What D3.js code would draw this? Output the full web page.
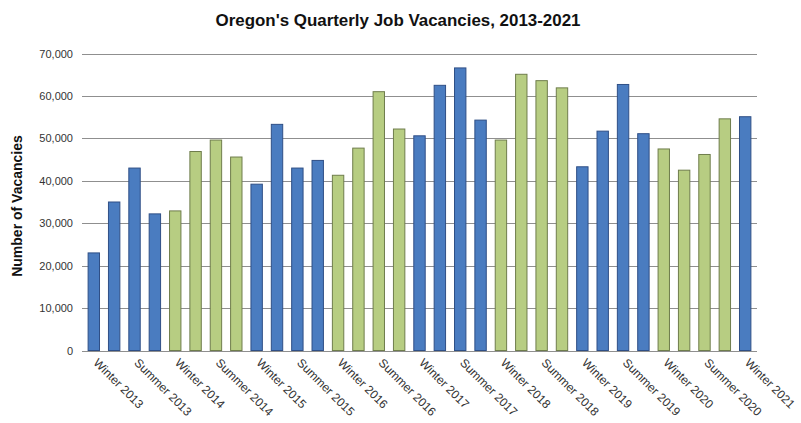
<!DOCTYPE html>
<html>
<head>
<meta charset="utf-8">
<script src="https://cdn.jsdelivr.net/npm/d3@7"></script>
<style>
  html, body { margin: 0; padding: 0; background: #fff; }
  svg { display: block; }
</style>
</head>
<body>
<svg id="chart" width="801" height="423"></svg>
<script>
// Quarterly job vacancy counts, Winter 2013 through Winter 2021
const quarters = [
  "Winter 2013", "Spring 2013", "Summer 2013", "Fall 2013",
  "Winter 2014", "Spring 2014", "Summer 2014", "Fall 2014",
  "Winter 2015", "Spring 2015", "Summer 2015", "Fall 2015",
  "Winter 2016", "Spring 2016", "Summer 2016", "Fall 2016",
  "Winter 2017", "Spring 2017", "Summer 2017", "Fall 2017",
  "Winter 2018", "Spring 2018", "Summer 2018", "Fall 2018",
  "Winter 2019", "Spring 2019", "Summer 2019", "Fall 2019",
  "Winter 2020", "Spring 2020", "Summer 2020", "Fall 2020",
  "Winter 2021"
];
const vacancies = [
  23000, 35000, 43000, 32200,
  32900, 46900, 49600, 45600,
  39200, 53300, 43000, 44800,
  41300, 47700, 61000, 52200,
  50600, 62500, 66600, 54300,
  49600, 65100, 63600, 61900,
  43300, 51700, 62700, 51100,
  47500, 42500, 46200, 54600,
  55100
];
const tickLabels = [
  "Winter 2013", "Summer 2013", "Winter 2014", "Summer 2014",
  "Winter 2015", "Summer 2015", "Winter 2016", "Summer 2016",
  "Winter 2017", "Summer 2017", "Winter 2018", "Summer 2018",
  "Winter 2019", "Summer 2019", "Winter 2020", "Summer 2020",
  "Winter 2021"
];
const yTicks = [0, 10000, 20000, 30000, 40000, 50000, 60000, 70000];

const data = quarters.map((q, i) => ({ quarter: q, year: +q.split(" ")[1], value: vacancies[i] }));

const svg = d3.select("#chart");
const plotLeft = 82, plotRight = 757, plotTop = 53.5, plotBottom = 350.5;

const x = d3.scaleBand().domain(quarters).range([plotLeft, plotRight])
  .paddingInner(0.44).paddingOuter(0.3);
const y = d3.scaleLinear().domain([0, 70000]).range([plotBottom, plotTop]);

// Odd years blue, even years green
const fill = d => d.year % 2 === 1 ? "#4a7cc0" : "#b7cd82";
const edge = d => d.year % 2 === 1 ? "#2f4f86" : "#6f7d4c";

// Value labels on the left
const yAxis = d3.axisLeft(y).tickValues(yTicks)
  .tickFormat(d3.format(",")).tickSize(0).tickPadding(9);
const gy = svg.append("g").attr("transform", `translate(${plotLeft},0)`).call(yAxis);
gy.select(".domain").remove();
gy.selectAll("text").attr("font-family", "Arial, 'Liberation Sans', sans-serif")
  .attr("font-size", 11).attr("fill", "#333");

// Horizontal gridlines
svg.append("g").selectAll("line").data(yTicks).join("line")
  .attr("x1", plotLeft).attr("x2", plotRight)
  .attr("y1", d => Math.round(y(d)) + 0.5).attr("y2", d => Math.round(y(d)) + 0.5)
  .attr("stroke", "#8f8f8f").attr("stroke-width", 1);

// Bars
svg.append("g").selectAll("rect").data(data).join("rect")
  .attr("x", d => x(d.quarter))
  .attr("y", d => y(d.value))
  .attr("width", x.bandwidth())
  .attr("height", d => y(0) - y(d.value))
  .attr("fill", fill)
  .attr("stroke", edge)
  .attr("stroke-width", 1);

// Category labels every other quarter, slanted
const xAxis = d3.axisBottom(x).tickValues(tickLabels).tickSize(0).tickPadding(0);
const gx = svg.append("g").attr("transform", `translate(0,${plotBottom})`).call(xAxis);
gx.select(".domain").remove();
gx.selectAll("text")
  .attr("font-family", "Arial, 'Liberation Sans', sans-serif")
  .attr("font-size", 12).attr("fill", "#333")
  .attr("text-anchor", "start")
  .attr("dy", 0).attr("y", 0)
  .attr("transform", "translate(-1,13) rotate(45)");

// Title
svg.append("text")
  .attr("x", 398).attr("y", 26)
  .attr("text-anchor", "middle")
  .attr("font-family", "Arial, 'Liberation Sans', sans-serif")
  .attr("font-weight", "bold").attr("font-size", 17).attr("fill", "#111")
  .attr("textLength", 365).attr("lengthAdjust", "spacingAndGlyphs")
  .text("Oregon's Quarterly Job Vacancies, 2013-2021");

// Y axis title
svg.append("text")
  .attr("transform", `translate(22,${(plotTop + plotBottom) / 2 + 4}) rotate(-90)`)
  .attr("text-anchor", "middle")
  .attr("font-family", "Arial, 'Liberation Sans', sans-serif")
  .attr("font-weight", "bold").attr("font-size", 14).attr("fill", "#111")
  .text("Number of Vacancies");
</script>
</body>
</html>
